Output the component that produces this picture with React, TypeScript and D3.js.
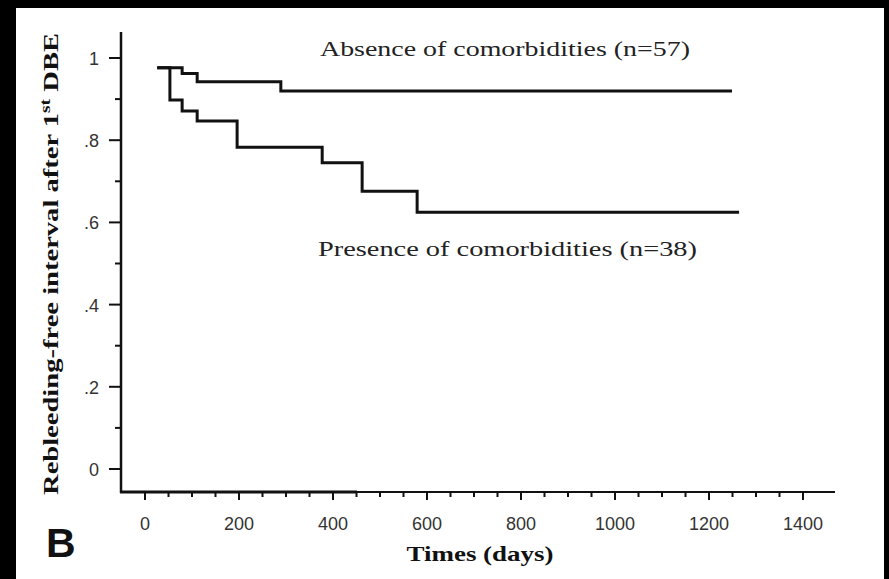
import React from 'react';
import * as d3 from 'd3';

const absenceTimes = [26, 79, 111, 289, 1249];
const absenceSurv = [0.976, 0.962, 0.942, 0.92, 0.92];
const presenceTimes = [26, 53, 79, 111, 196, 377, 462, 579, 1264];
const presenceSurv = [0.976, 0.898, 0.871, 0.847, 0.783, 0.745, 0.676, 0.625, 0.625];
const xTicks = [0, 200, 400, 600, 800, 1000, 1200, 1400];
const xMinorTicks = d3.range(50, 1400, 50).filter((v) => v % 200 !== 0);
const yTicks = [0, 0.2, 0.4, 0.6, 0.8, 1];
const yTickLabels = ['0', '.2', '.4', '.6', '.8', '1'];
const yMinorTicks = [0.1, 0.3, 0.5, 0.7, 0.9];
const absenceLabel = 'Absence of comorbidities (n=57)';
const presenceLabel = 'Presence of comorbidities (n=38)';
const xTitle = 'Times (days)';
const panelLetter = 'B';

export default function App() {
  const W = 889;
  const H = 579;
  const x = d3.scaleLinear().domain([0, 1400]).range([145, 803]);
  const y = d3.scaleLinear().domain([0, 1]).range([469, 58]);
  const axisX = 121;
  const axisY = 492;
  const line = d3
    .line<[number, number]>()
    .x((d) => x(d[0]))
    .y((d) => y(d[1]))
    .curve(d3.curveStepAfter);
  const absence = absenceTimes.map((t, i) => [t, absenceSurv[i]] as [number, number]);
  const presence = presenceTimes.map((t, i) => [t, presenceSurv[i]] as [number, number]);
  const serif = "'Liberation Serif', 'Times New Roman', serif";
  const sans = "'Liberation Sans', Arial, sans-serif";

  return (
    <svg
      width={W}
      height={H}
      style={{ position: 'absolute', left: 0, top: 0, display: 'block' }}
    >
      <rect x={0} y={0} width={W} height={H} fill="#000" />
      <rect x={16} y={8} width={868} height={571} fill="#fff" />

      {/* y axis */}
      <line x1={axisX} x2={axisX} y1={32} y2={axisY + 1} stroke="#111" strokeWidth={2.5} />
      {yTicks.map((v) => (
        <line key={'yt' + v} x1={109} x2={axisX} y1={y(v)} y2={y(v)} stroke="#111" strokeWidth={2} />
      ))}
      {yMinorTicks.map((v) => (
        <line key={'ym' + v} x1={115} x2={axisX} y1={y(v)} y2={y(v)} stroke="#111" strokeWidth={2} />
      ))}
      {yTicks.map((v, i) => (
        <text
          key={'yl' + v}
          x={99}
          y={y(v) + 7}
          textAnchor="end"
          fontFamily={sans}
          fontSize={18}
          fill="#333"
        >
          {yTickLabels[i]}
        </text>
      ))}

      {/* x axis */}
      <line x1={axisX - 1} x2={835} y1={axisY} y2={axisY} stroke="#111" strokeWidth={2.2} />
      <line x1={axisX - 1} x2={357} y1={axisY} y2={axisY} stroke="#111" strokeWidth={3} />
      {xTicks.map((v) => (
        <line key={'xt' + v} x1={x(v)} x2={x(v)} y1={axisY} y2={axisY + 8} stroke="#111" strokeWidth={2} />
      ))}
      {xMinorTicks.map((v) => (
        <line key={'xm' + v} x1={x(v)} x2={x(v)} y1={axisY} y2={axisY + 5} stroke="#111" strokeWidth={2} />
      ))}
      {xTicks.map((v) => (
        <text
          key={'xl' + v}
          x={x(v)}
          y={530}
          textAnchor="middle"
          fontFamily={sans}
          fontSize={18}
          fill="#333"
        >
          {String(v)}
        </text>
      ))}

      {/* curves */}
      <path d={line(absence) || ''} fill="none" stroke="#111" strokeWidth={3} />
      <path d={line(presence) || ''} fill="none" stroke="#111" strokeWidth={3} />

      {/* annotations */}
      <text
        x={320}
        y={56}
        fontFamily={serif}
        fontSize={21}
        fill="#222"
        textLength={370}
        lengthAdjust="spacingAndGlyphs"
      >
        {absenceLabel}
      </text>
      <text
        x={318}
        y={256}
        fontFamily={serif}
        fontSize={21}
        fill="#222"
        textLength={379}
        lengthAdjust="spacingAndGlyphs"
      >
        {presenceLabel}
      </text>

      {/* axis titles */}
      <text
        x={480}
        y={561}
        textAnchor="middle"
        fontFamily={serif}
        fontWeight="bold"
        fontSize={22}
        fill="#111"
        textLength={147}
        lengthAdjust="spacingAndGlyphs"
      >
        {xTitle}
      </text>
      <text
        transform="translate(58,264) rotate(-90)"
        textAnchor="middle"
        fontFamily={serif}
        fontWeight="bold"
        fontSize={22}
        fill="#111"
        textLength={462}
        lengthAdjust="spacingAndGlyphs"
      >
        Rebleeding-free interval after 1
        <tspan fontSize={15} dy={-8}>st</tspan>
        <tspan dy={8}> DBE</tspan>
      </text>

      <text x={46} y={557} fontFamily={sans} fontWeight="bold" fontSize={41} fill="#111">
        {panelLetter}
      </text>
    </svg>
  );
}
